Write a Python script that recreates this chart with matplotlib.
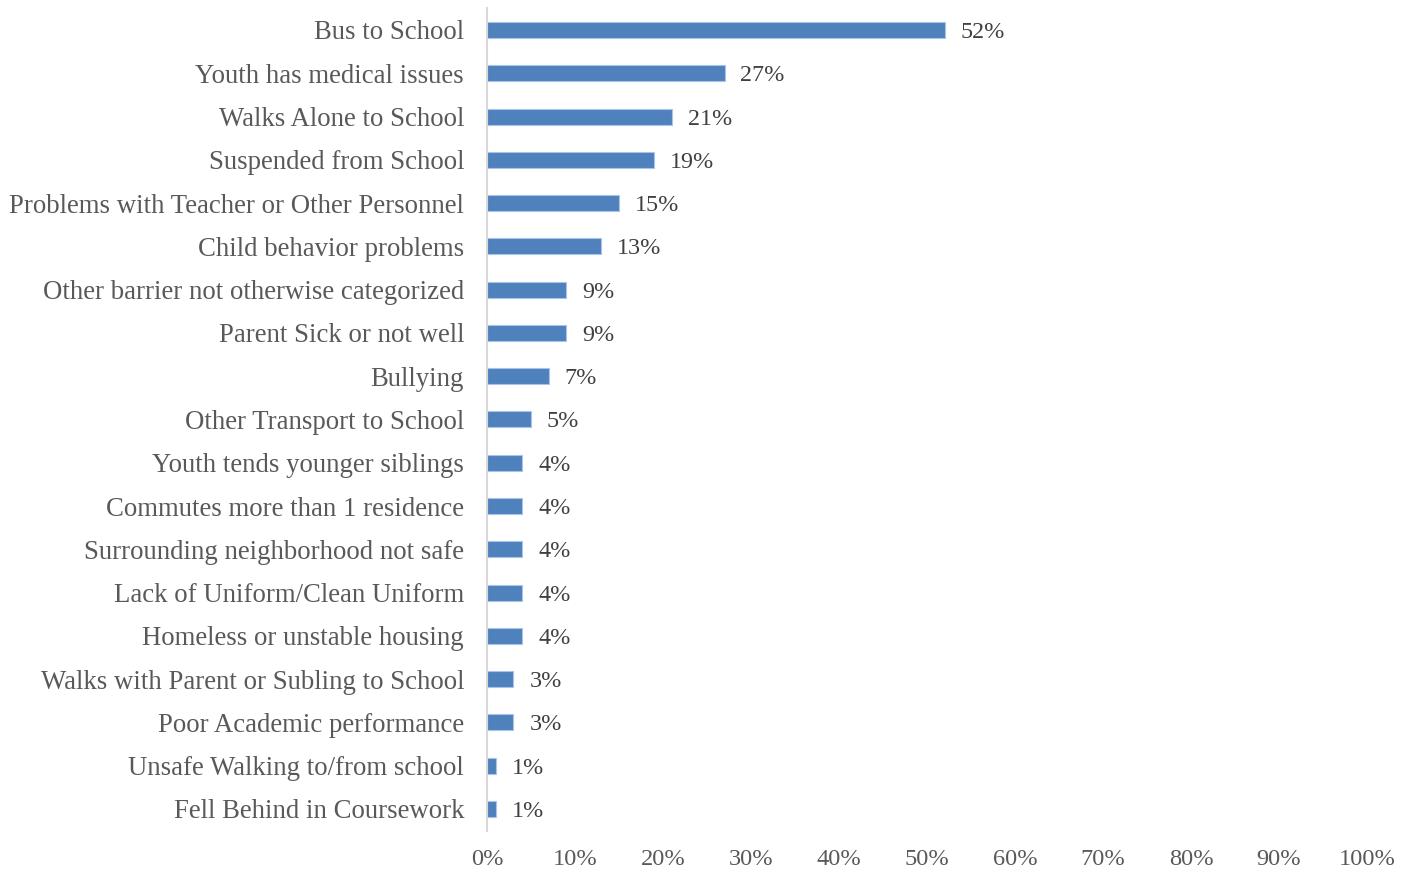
import matplotlib
matplotlib.use("Agg")
import matplotlib.pyplot as plt
from matplotlib.ticker import FuncFormatter

categories = [
    "Bus to School",
    "Youth has medical issues",
    "Walks Alone to School",
    "Suspended from School",
    "Problems with Teacher or Other Personnel",
    "Child behavior problems",
    "Other barrier not otherwise categorized",
    "Parent Sick or not well",
    "Bullying",
    "Other Transport to School",
    "Youth tends younger siblings",
    "Commutes more than 1 residence",
    "Surrounding neighborhood not safe",
    "Lack of Uniform/Clean Uniform",
    "Homeless or unstable housing",
    "Walks with Parent or Subling to School",
    "Poor Academic performance",
    "Unsafe Walking to/from school",
    "Fell Behind in Coursework",
]
percent = [52, 27, 21, 19, 15, 13, 9, 9, 7, 5, 4, 4, 4, 4, 4, 3, 3, 1, 1]
x_ticks = [0, 10, 20, 30, 40, 50, 60, 70, 80, 90, 100]

plt.rcParams["font.family"] = ["Liberation Serif", "DejaVu Serif"]

fig = plt.figure(figsize=(14.1, 8.71), dpi=100)
ax = fig.add_axes([0.3454, 0.0464, 0.6241, 0.944])

y = list(range(len(categories)))
ax.barh(y, percent, height=0.37, color="#4F81BD", edgecolor="#A9C4E6", linewidth=0.8)

for yi, v in zip(y, percent):
    ax.text(v + 1.8, yi, f"{v}%", va="center_baseline", ha="left",
            fontsize=17.4, color="#404040")

ax.set_yticks(y)
ax.set_yticklabels(categories, fontsize=19.25, color="#595959")
ax.set_ylim(len(categories) - 0.5, -0.5)

ax.set_xlim(0, 100)
ax.set_xticks(x_ticks)
ax.xaxis.set_major_formatter(FuncFormatter(lambda v, _: f"{int(v)}%"))
ax.tick_params(axis="x", labelsize=17.6, labelcolor="#595959", length=0, pad=13.5)
ax.tick_params(axis="y", length=0, pad=16.5)

for side in ("top", "right", "bottom"):
    ax.spines[side].set_visible(False)
ax.spines["left"].set_color("#D9D9D9")
ax.spines["left"].set_linewidth(1.5)

fig.savefig("out.png", dpi=100)
